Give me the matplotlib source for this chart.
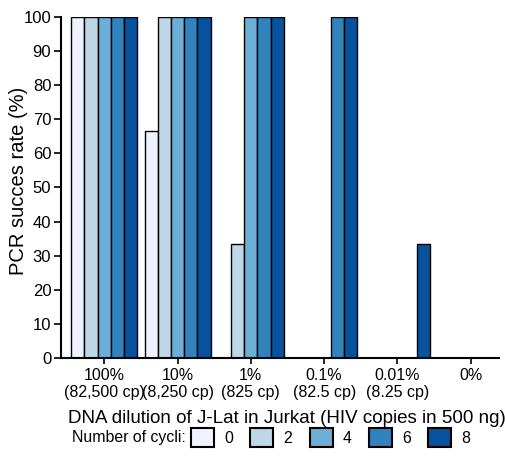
import numpy as np
import matplotlib
matplotlib.use('Agg')
import matplotlib.pyplot as plt

plt.rcParams['font.family'] = ['Liberation Sans', 'DejaVu Sans']

# dilution groups
dilutions = ['100%', '10%', '1%', '0.1%', '0.01%', '0%']
copies = ['(82,500 cp)', '(8,250 cp)', '(825 cp)', '(82.5 cp)', '(8.25 cp)', '']

# PCR success rate (%) per number of cycles
cycles = ['0', '2', '4', '6', '8']
rate_0 = [100, 66.7, 0, 0, 0, 0]
rate_2 = [100, 100, 33.3, 0, 0, 0]
rate_4 = [100, 100, 100, 0, 0, 0]
rate_6 = [100, 100, 100, 100, 0, 0]
rate_8 = [100, 100, 100, 100, 33.3, 0]
rates = [rate_0, rate_2, rate_4, rate_6, rate_8]

colors = ['#eff3ff', '#bdd7e7', '#6baed6', '#3182bd', '#08519c']

fig = plt.figure(figsize=(5.06, 4.58), dpi=100)
ax = fig.add_axes([0.1206, 0.2183, 0.8656, 0.7447])

x = np.arange(len(dilutions))
w = 0.18
for i, (vals, c) in enumerate(zip(rates, colors)):
    ax.bar(x + (i - 2) * w, vals, width=w, color=c, edgecolor='black',
           linewidth=1.0, label=cycles[i])

ax.set_xlim(-0.59, 5.386)
ax.set_ylim(0, 100)
ax.set_yticks(range(0, 101, 10))
ax.set_xticks(x)
ax.set_xticklabels([f'{d}\n{c}' for d, c in zip(dilutions, copies)], fontsize=11.5)
ax.tick_params(axis='y', labelsize=12, length=5, width=1.2, pad=2)
ax.tick_params(axis='x', length=4, width=1.2, pad=3)
for s in ['top', 'right']:
    ax.spines[s].set_visible(False)
for s in ['left', 'bottom']:
    ax.spines[s].set_linewidth(1.5)

ax.set_ylabel('PCR succes rate (%)', fontsize=14.5)
ax.yaxis.set_label_coords(-0.075, 0.519)
ax.set_xlabel('DNA dilution of J-Lat in Jurkat (HIV copies in 500 ng)', fontsize=13.5)
ax.xaxis.set_label_coords(0.515, -0.152)

fig.text(0.142, 0.044, 'Number of cycli:', fontsize=11.4, va='center', ha='left')
leg = fig.legend(loc='center left', bbox_to_anchor=(0.365, 0.044), ncol=5, frameon=False,
                 fontsize=11.4, handlelength=1.45, handleheight=1.45, handletextpad=0.63,
                 columnspacing=1.11, borderaxespad=0)
for p in leg.get_patches():
    p.set_linewidth(1.5)

fig.savefig('out.png', dpi=100)
